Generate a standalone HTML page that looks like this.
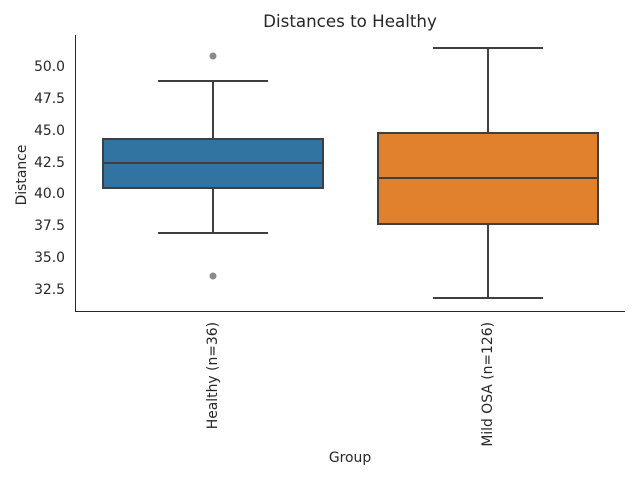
<!DOCTYPE html>
<html><head><style>body{margin:0;background:#fff}</style></head><body>
<svg width="640" height="480" xmlns="http://www.w3.org/2000/svg" font-family="DejaVu Sans, sans-serif" fill="#262626">
<rect width="640" height="480" fill="#fff"/>
<text x="350" y="27" font-size="16.7" text-anchor="middle">Distances to Healthy</text>
<g font-size="13.9" text-anchor="end">
<text x="65" y="71">50.0</text><text x="65" y="103">47.5</text><text x="65" y="135">45.0</text><text x="65" y="167">42.5</text><text x="65" y="198">40.0</text><text x="65" y="230">37.5</text><text x="65" y="262">35.0</text><text x="65" y="294">32.5</text>
</g>
<text transform="translate(26,175) rotate(-90)" font-size="13.9" text-anchor="middle">Distance</text>
<text x="350" y="462" font-size="13.9" text-anchor="middle">Group</text>
<text transform="translate(217,322) rotate(-90)" font-size="13.9" text-anchor="end">Healthy (n=36)</text>
<text transform="translate(492,322) rotate(-90)" font-size="13.9" text-anchor="end">Mild OSA (n=126)</text>
<g stroke="#3f3f3f" stroke-width="2" fill="none">
<line x1="213" y1="81" x2="213" y2="139"/><line x1="213" y1="188" x2="213" y2="233"/>
<line x1="158" y1="81" x2="268" y2="81"/><line x1="158" y1="233" x2="268" y2="233"/>
<rect x="103" y="139" width="220" height="49" fill="#3274a1"/>
<line x1="103" y1="163" x2="323" y2="163"/>
<line x1="488" y1="48" x2="488" y2="133"/><line x1="488" y1="224" x2="488" y2="298"/>
<line x1="433" y1="48" x2="543" y2="48"/><line x1="433" y1="298" x2="543" y2="298"/>
<rect x="378" y="133" width="220" height="91" fill="#e1812c"/>
<line x1="378" y1="178" x2="598" y2="178"/>
</g>
<circle cx="213" cy="56" r="3.5" fill="#8a8a8a"/><circle cx="213" cy="276" r="3.5" fill="#8a8a8a"/>
<g stroke="#262626" stroke-width="1"><line x1="75.5" y1="35" x2="75.5" y2="311"/><line x1="75" y1="311.5" x2="625" y2="311.5"/></g>
</svg>
</body></html>
